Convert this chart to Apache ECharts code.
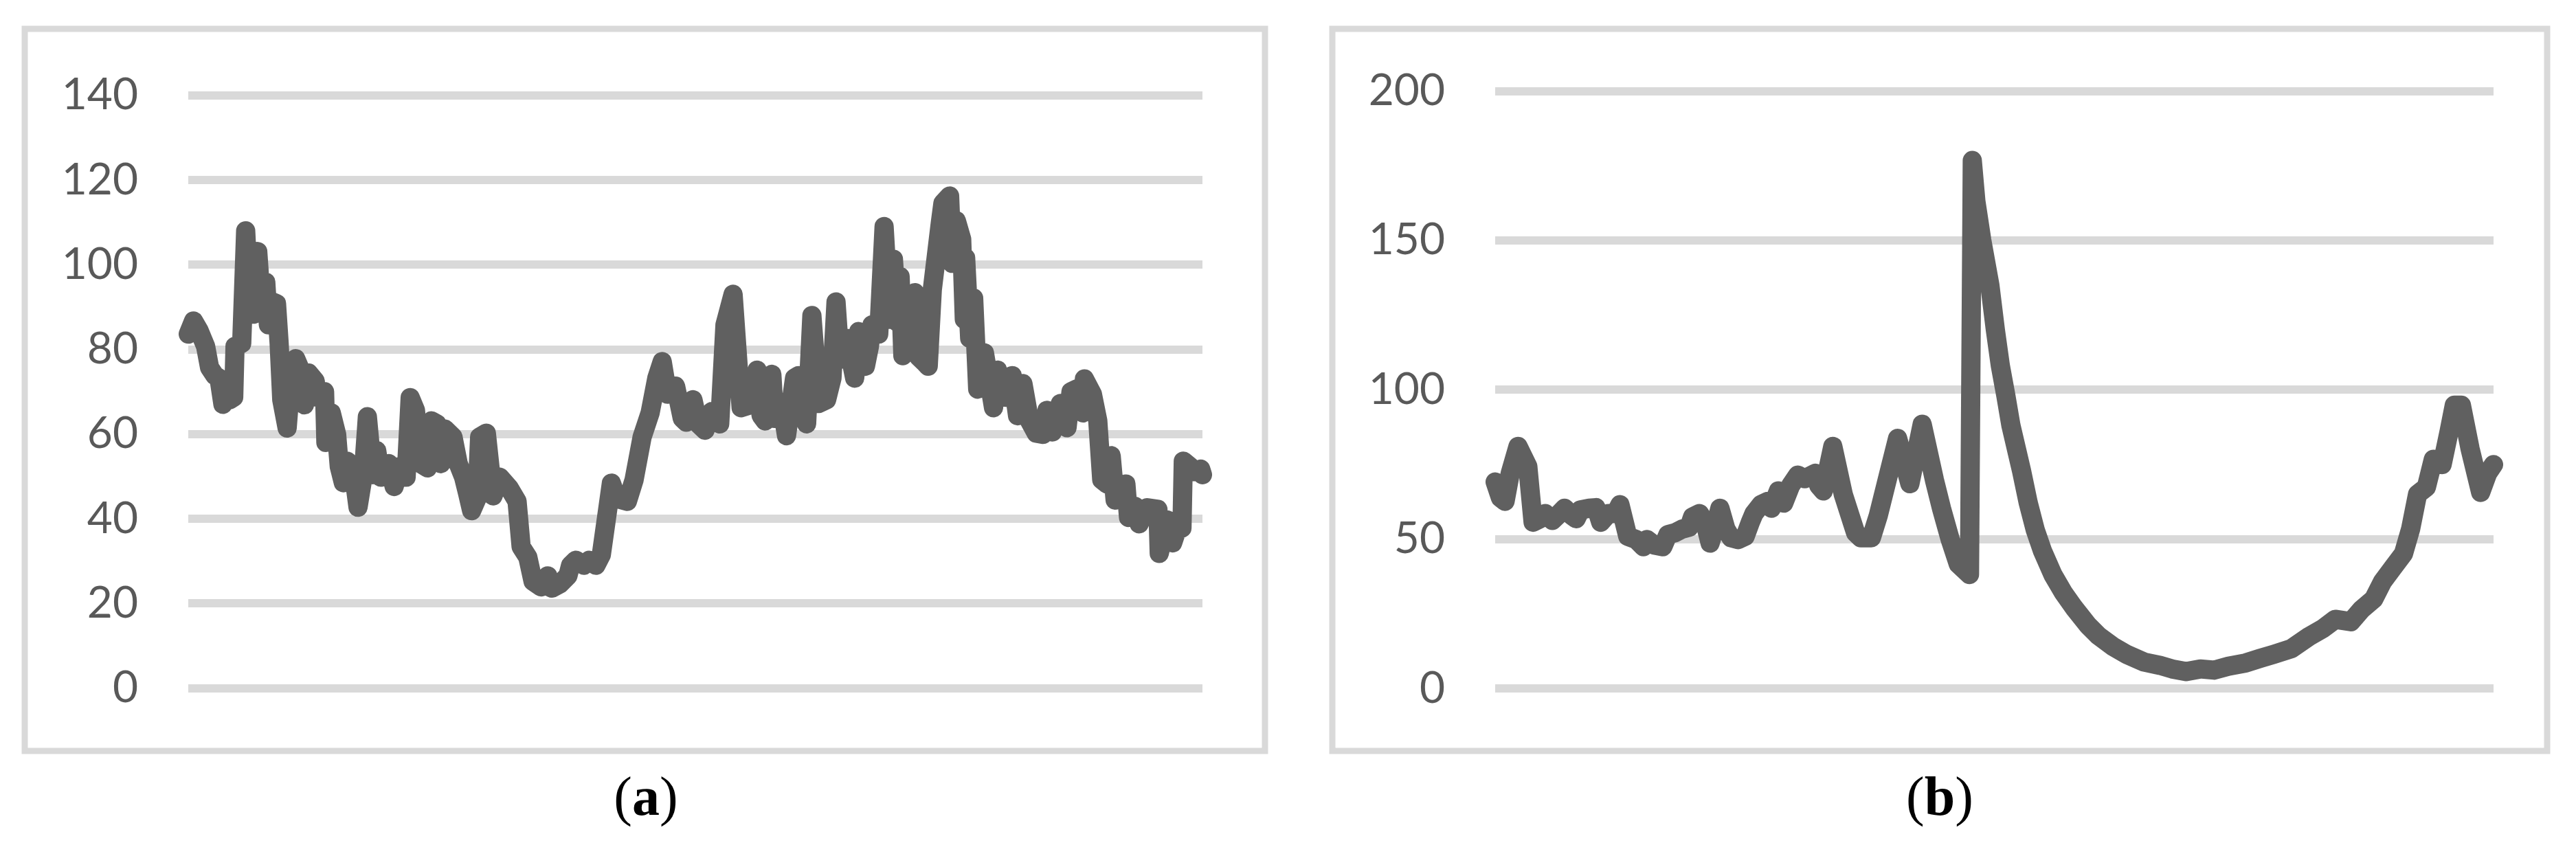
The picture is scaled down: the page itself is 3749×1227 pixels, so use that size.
<!DOCTYPE html>
<html><head><meta charset="utf-8">
<script src="https://cdn.jsdelivr.net/npm/echarts/dist/echarts.min.js"></script>
<style>html,body{margin:0;padding:0;background:#fff;}#c{width:3749px;height:1227px;}</style>
</head><body><div id="c"></div><script>
// Panel (a): position along the series (0..1000) and value
const leftX = [0,5.2,10.5,17.1,21.0,26.3,30.3,34.2,38.2,40.8,44.8,46.1,52.7,56.6,60.6,64.5,68.5,72.4,76.4,79.0,
  83.0,87.0,89.6,92.2,97.5,101.4,105.9,110.7,114.6,118.6,125.2,126.5,134.4,135.7,141.0,146.3,148.9,152.9,156.8,162.1,
  167.4,172.6,176.6,181.9,185.8,189.8,197.7,203.0,208.2,214.8,218.8,224.0,229.3,235.9,239.9,245.1,249.1,253.0,261.0,266.2,
  271.5,275.4,279.4,284.7,287.3,293.9,300.5,307.1,316.3,324.2,328.2,334.8,340.0,347.9,354.5,358.5,366.4,374.3,377.0,382.2,
  390.1,395.4,402.0,407.3,
  417.2,422.5,433.0,439.6,447.5,455.4,462.0,467.3,472.6,480.5,487.1,491.0,497.6,502.9,509.5,516.1,524.0,529.2,537.2,545.1,
  554.3,560.9,564.8,568.8,575.4,578.0,584.6,589.9,597.8,601.7,609.7,614.9,621.5,629.4,634.7,638.7,642.6,649.2,657.1,661.1,
  667.7,671.6,674.2,680.8,686.1,691.4,695.3,699.3,701.9,704.6,711.1,716.4,720.4,725.7,729.6,733.6,741.5,744.1,750.7,753.3,
  757.3,762.6,765.2,766.5,770.5,774.4,778.4,785.0,
  794.0,797.9,805.8,812.4,817.7,823.0,829.5,836.1,842.7,846.7,852.0,859.9,866.5,870.4,875.7,882.3,883.6,891.5,896.8,900.7,
  906.0,910.0,913.9,919.2,924.5,927.1,933.7,937.6,941.6,945.6,956.1,957.4,965.3,970.6,974.6,979.8,981.1,987.7,991.7,998.3,1000];
const leftY = [83.6,86.7,84.5,80.7,75.7,73.8,73.2,67.0,72.5,68.1,68.7,80.7,81.4,108.0,89.0,88.3,103.1,89.6,95.9,85.8,
  91.2,90.8,81.4,68.1,61.4,73.2,77.8,75.1,66.9,74.4,72.5,68.7,70.0,58.0,65.0,59.9,52.3,48.5,53.6,52.3,
  42.7,50.4,64.1,50.4,56.1,49.8,53.0,47.6,52.3,49.8,68.6,65.6,53.0,52.0,63.1,62.4,53.0,61.2,59.3,53.0,
  49.8,46.0,41.9,44.8,59.3,60.2,45.4,49.8,47.3,44.1,33.4,30.9,25.2,23.9,26.5,23.6,24.6,26.5,29.0,30.2,
  29.0,30.2,29.0,31.5,
  48.4,44.8,44.1,49.2,59.3,65.0,73.2,77.1,69.4,71.3,63.7,62.8,68.1,62.4,60.9,65.3,62.4,85.8,93.0,66.2,
  66.9,75.1,64.4,63.1,74.1,63.7,67.5,59.6,73.2,73.8,62.4,88.0,67.2,68.1,73.2,91.2,77.6,82.6,73.2,84.2,
  76.0,80.7,85.8,83.6,109.0,87.1,101.3,86.4,97.2,78.5,80.7,93.4,78.2,77.0,76.0,94.0,109.8,114.5,116.2,100.3,
  110.4,106.0,87.1,101.6,82.6,92.1,70.6,79.2,
  66.2,75.1,68.7,73.8,64.3,71.9,63.1,60.2,59.9,65.6,60.5,67.2,61.5,70.0,70.6,65.0,73.0,69.4,63.1,49.2,
  48.2,54.9,44.4,44.8,48.2,40.3,42.9,38.8,41.0,42.6,42.2,31.8,39.7,34.3,37.2,37.8,53.6,52.3,51.1,51.7,50.4];

// Panel (b)
const rightX = [0,5.3,9.9,15.1,22.9,32.7,38.0,45.0,50.2,57.3,62.5,69.5,76.6,81.1,85.4,94.1,101.1,105.7,113.4,120.5,
  125.0,132.8,141.5,148.5,152.1,159.1,167.9,173.1,180.2,187.2,194.2,197.7,204.7,210.0,215.3,220.5,225.1,231.1,236.3,243.4,
  250.4,255.6,259.2,266.2,273.2,276.7,283.7,289.0,296.0,303.1,310.1,320.6,324.1,328.7,338.2,348.7,361.0,366.2,376.8,383.8,
  394.3,403.1,415.4,427.7,440.0,447.0,455.8,463.9,475.1,477.9,481.5,487.4,495.5,501.0,506.0,511.5,516.6,527.1,534.0,541.0,
  548.2,558.7,569.2,579.8,593.8,604.3,618.4,632.4,650.0,665.8,678.1,692.1,706.2,720.2,734.3,751.8,765.9,779.9,797.5,815.0,
  829.1,841.4,857.2,867.7,880.0,888.8,899.3,909.8,916.9,923.9,932.7,939.7,948.5,955.5,960.7,967.8,976.5,987.1,994.1,1000];
const rightY = [69.1,63.8,62.6,72.0,81.0,74.3,55.6,56.8,58.5,56.2,57.9,60.3,57.9,56.8,59.7,60.3,60.5,55.6,58.5,58.5,
  61.5,50.9,49.8,47.4,49.8,48.0,47.4,51.5,52.1,53.3,53.9,57.4,58.5,55.6,48.6,54.4,60.3,53.3,50.4,49.8,
  50.9,55.6,58.5,61.5,62.6,60.3,66.1,62.0,67.9,71.4,70.2,72.0,67.9,66.1,81.0,64.9,52.1,50.4,50.4,57.9,
  72.0,83.7,68.5,88.4,69.7,60.3,49.8,41.6,38.1,176.7,163.0,150.0,135.0,120.0,108.0,98.0,88.0,73.0,62.0,53.0,
  46.0,38.0,32.0,27.0,21.1,17.6,14.1,11.4,8.8,7.7,6.5,5.6,6.5,6.1,7.4,8.5,10.0,11.4,13.3,17.3,
  20.0,23.1,22.3,26.4,29.9,35.7,40.4,45.1,53.3,65.0,67.3,76.7,74.9,86.0,94.8,94.8,80.2,65.6,72.0,74.9];

const leftTicks = [0, 20, 40, 60, 80, 100, 120, 140];
const rightTicks = [0, 50, 100, 150, 200];
const panelLabels = ['a', 'b'];

const chart = echarts.init(document.getElementById('c'), null, {renderer: 'canvas', width: 3749, height: 1227});
const lineColor = '#606060';
const gridColor = '#d9d9d9';
function yAxisFor(gi, ticks) {
  return {
    type: 'value', gridIndex: gi,
    min: ticks[0], max: ticks[ticks.length - 1], interval: ticks[1] - ticks[0],
    axisLine: {show: false}, axisTick: {show: false},
    axisLabel: {fontFamily: 'Lato', fontSize: 64, color: '#595959', margin: 73},
    splitLine: {show: true, lineStyle: {color: gridColor, width: 12}}
  };
}
function xAxisFor(gi) {
  return {type: 'value', gridIndex: gi, min: 0, max: 1000, show: false, splitLine: {show: false}};
}
function seriesFor(i, xs, ys) {
  return {
    type: 'line', xAxisIndex: i, yAxisIndex: i,
    data: xs.map((x, k) => [x, ys[k]]),
    showSymbol: false, symbol: 'none', clip: false, z: 5,
    lineStyle: {color: lineColor, width: 28, cap: 'round', join: 'round'}
  };
}
function panelLabel(cx, letter) {
  return {
    type: 'text', x: cx, y: 1165, silent: true,
    style: {
      text: '{p|(}{b|' + letter + '}{p|)}',
      align: 'center', verticalAlign: 'middle',
      rich: {
        p: {fontFamily: 'Liberation Serif', fontSize: 80, fill: '#000', color: '#000'},
        b: {fontFamily: 'Liberation Serif', fontSize: 80, fontWeight: 'bold', fill: '#000', color: '#000'}
      }
    }
  };
}
chart.setOption({
  animation: false,
  backgroundColor: '#ffffff',
  grid: [
    {left: 274, top: 138.7, width: 1476, height: 862.8},
    {left: 2176, top: 132.3, width: 1453, height: 869.6}
  ],
  xAxis: [xAxisFor(0), xAxisFor(1)],
  yAxis: [yAxisFor(0, leftTicks), yAxisFor(1, rightTicks)],
  series: [seriesFor(0, leftX, leftY), seriesFor(1, rightX, rightY)],
  graphic: [
    {type: 'rect', silent: true, z: -10, shape: {x: 36, y: 42, width: 1805, height: 1051},
      style: {fill: 'none', stroke: gridColor, lineWidth: 9}},
    {type: 'rect', silent: true, z: -10, shape: {x: 1939, y: 42, width: 1768, height: 1051},
      style: {fill: 'none', stroke: gridColor, lineWidth: 9}},
    panelLabel(940, panelLabels[0]),
    panelLabel(2823, panelLabels[1])
  ]
});
</script></body></html>
